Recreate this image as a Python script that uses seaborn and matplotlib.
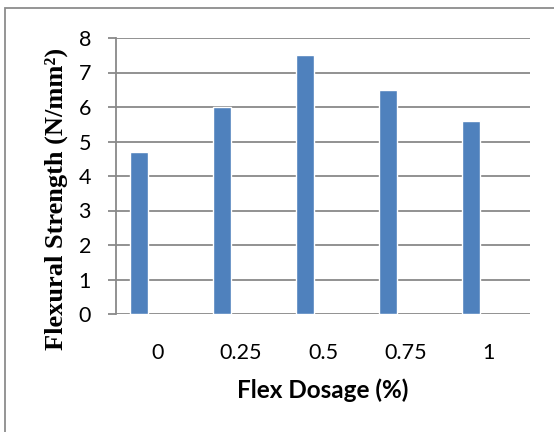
import matplotlib
matplotlib.use("Agg")
import matplotlib.pyplot as plt
import seaborn as sns
import pandas as pd
from matplotlib.patches import Rectangle

categories = ["0", "0.25", "0.5", "0.75", "1"]
strength = [4.7, 6.0, 7.5, 6.5, 5.6]
series_order = ["Series1", "Series2", "Series3"]
y_ticks = [0, 1, 2, 3, 4, 5, 6, 7, 8]

df = pd.DataFrame({"dosage": categories, "strength": strength, "series": ["Series1"] * len(categories)})

sns.set_theme(style="white")
plt.rcParams["font.family"] = ["Lato", "DejaVu Sans"]

W, H = 554, 432
fig = plt.figure(figsize=(W / 100, H / 100), dpi=100)
ax = fig.add_axes([116 / W, 1 - 314 / H, (530 - 116) / W, (314 - 38) / H])

sns.barplot(data=df, x="dosage", y="strength", hue="series", hue_order=series_order,
            order=categories, palette={"Series1": "#4F81BD", "Series2": "#C0504D", "Series3": "#9BBB59"},
            width=0.65, dodge=True, ax=ax, legend=False, errorbar=None, saturation=1)

grid_c = "#898989"
ax.set_ylim(0, 8)
ax.set_xlim(-0.5, len(categories) - 0.5)
ax.set_yticks(y_ticks)
ax.yaxis.grid(True, color=grid_c, linewidth=1.3)
ax.set_axisbelow(True)
for s in ["top", "right", "bottom"]:
    ax.spines[s].set_visible(False)
ax.spines["left"].set_color(grid_c)
ax.spines["left"].set_linewidth(1.3)
ax.tick_params(axis="y", which="both", left=True, length=6, width=1.3, color=grid_c,
               labelsize=15.5, pad=12, labelcolor="black")
ax.tick_params(axis="x", bottom=False, labelsize=15.5, pad=15, labelcolor="black")

ax.set_xlabel("Flex Dosage (%)", fontsize=17.5, fontweight="bold", color="black")
ax.set_ylabel("Flexural Strength (N/mm²)", fontsize=19, fontweight="bold",
              family=["Liberation Serif", "DejaVu Serif"], color="black")
ax.xaxis.set_label_coords(0.5, (314 - 390) / 276, transform=ax.transAxes)
ax.yaxis.set_label_coords((56 - 116) / 414, (314 - 199) / 276, transform=ax.transAxes)
ax.xaxis.label.set_va("center")
ax.yaxis.label.set_va("center")

fig.patches.append(Rectangle((5 / W, -0.1), 1.2, (432 - 8) / H + 0.1, transform=fig.transFigure,
                             fill=False, edgecolor="#8c8c8c", linewidth=1.3))

fig.savefig("out.png", dpi=100)
